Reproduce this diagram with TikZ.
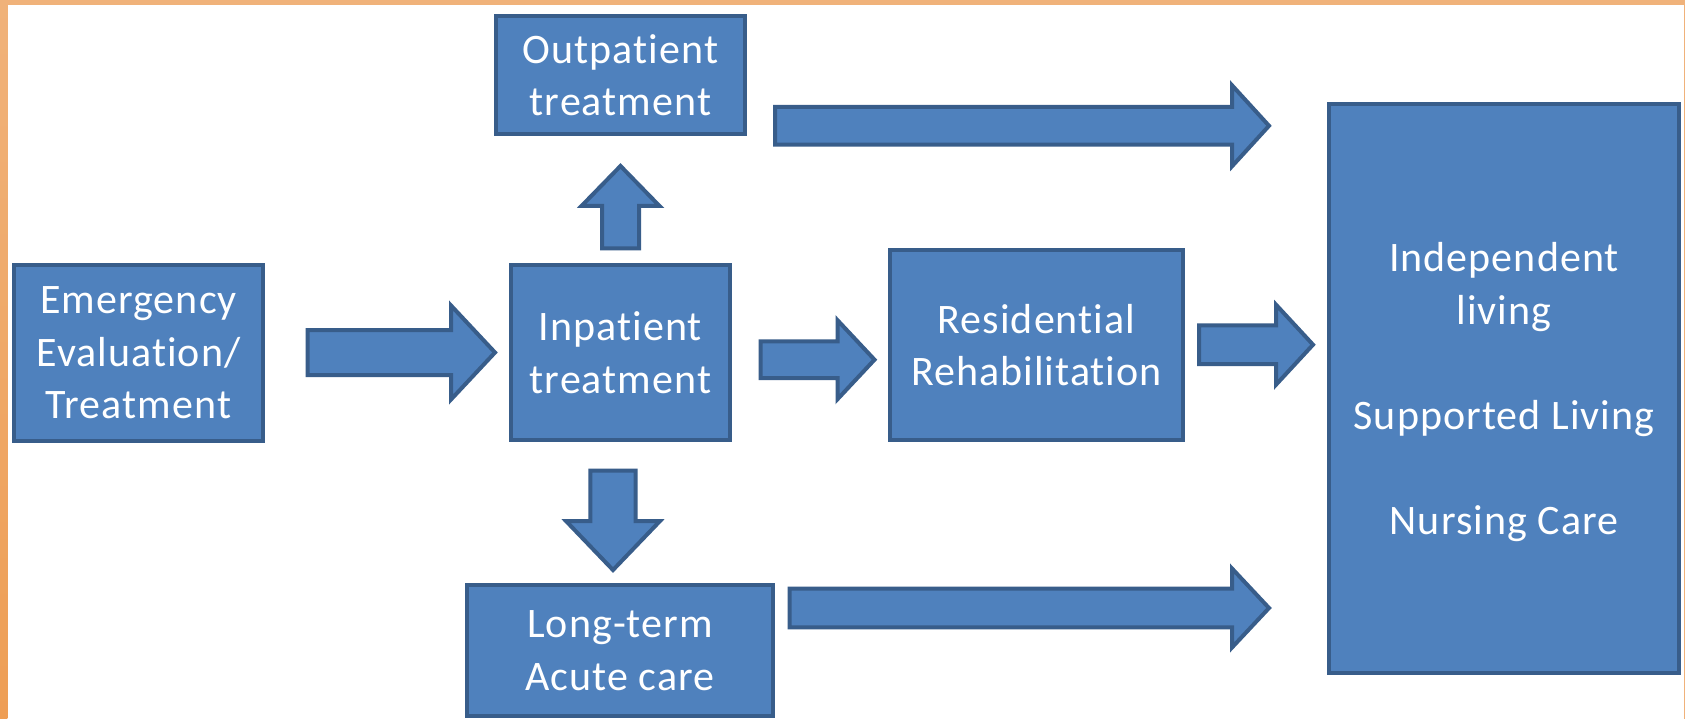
\documentclass[tikz,border=0pt]{standalone}
\usepackage{fontspec}
\setmainfont{Carlito}[LetterSpace=2.5, RawFeature={-liga;-clig;-calt;-dlig}]
\usetikzlibrary{calc}
\definecolor{boxfill}{HTML}{4F81BD}
\definecolor{boxline}{HTML}{385D8A}
\definecolor{frameA}{HTML}{F0B27A}
\definecolor{frameB}{HTML}{EE9E55}
% right-pointing block arrow: #1 start, #2 tip, #3 shaft half width, #4 head half width, #5 head length
\newcommand\arrR[5]{\draw[blockarrow] ($(#1)+(0,-#3)$) -- ($(#2|-#1)+(-#5,-#3)$) -- ($(#2|-#1)+(-#5,-#4)$) -- (#2|-#1) -- ($(#2|-#1)+(-#5,#4)$) -- ($(#2|-#1)+(-#5,#3)$) -- ($(#1)+(0,#3)$) -- cycle;}
% down-pointing block arrow (y grows downwards)
\newcommand\arrD[5]{\draw[blockarrow] ($(#1)+(-#3,0)$) -- ($(#1|-#2)+(-#3,-#5)$) -- ($(#1|-#2)+(-#4,-#5)$) -- (#1|-#2) -- ($(#1|-#2)+(#4,-#5)$) -- ($(#1|-#2)+(#3,-#5)$) -- ($(#1)+(#3,0)$) -- cycle;}
% up-pointing block arrow
\newcommand\arrU[5]{\draw[blockarrow] ($(#1)+(-#3,0)$) -- ($(#1|-#2)+(-#3,#5)$) -- ($(#1|-#2)+(-#4,#5)$) -- (#1|-#2) -- ($(#1|-#2)+(#4,#5)$) -- ($(#1|-#2)+(#3,#5)$) -- ($(#1)+(#3,0)$) -- cycle;}
\tikzset{
  stagebox/.style={draw=boxline, fill=boxfill, line width=4pt, inner sep=0pt,
    text=white, align=center, font=\fontsize{42}{52.5}\selectfont},
  blockarrow/.style={draw=boxline, fill=boxfill, line width=4pt, line join=miter}
}
\begin{document}
\begin{tikzpicture}[x=1pt, y=-1pt]
\useasboundingbox (0,0) rectangle (1685,719);
\fill[white] (0,0) rectangle (1685,719);
% orange frame
\fill[frameA] (0,0) rectangle (1685,5);
\shade[top color=frameA, bottom color=frameB] (0,0) rectangle (7.3,719);
\fill[frameA] (1683.5,0) rectangle (1685,719);
% boxes
\node[stagebox, minimum width=249, minimum height=176] (em) at (138.5,353) {Emergency\\Evaluation/\\Treatment};
\node[stagebox, minimum width=219, minimum height=175] (inp) at (620.5,352.5) {Inpatient\\treatment};
\node[stagebox, minimum width=249, minimum height=118] (outp) at (620.5,75) {Outpatient\\treatment};
\node[stagebox, minimum width=293, minimum height=190] (res) at (1036.5,345) {Residential\\Rehabilitation};
\node[stagebox, minimum width=306, minimum height=131] (lt) at (620,650.5) {Long-term\\Acute care};
\node[stagebox, minimum width=350, minimum height=569, text depth=0pt] (right) at (1504,388.5) {Independent\\living\\[52.5pt]Supported Living\\[52.5pt]Nursing Care};
% arrow end points
\coordinate (a1s) at ($(em.east)+(42.5,-0.5)$);
\coordinate (a1e) at ($(inp.west)+(-14,0)$);
\coordinate (a2s) at ($(inp.east)+(28.7,7.2)$);
\coordinate (a2e) at ($(res.west)+(-13.5,0)$);
\coordinate (a3s) at ($(inp.north)+(0,-14.7)$);
\coordinate (a3e) at ($(outp.south)+(0,30)$);
\coordinate (a4s) at ($(inp.south)+(-7.5,28.7)$);
\coordinate (a4e) at ($(lt.north)+(0,-13)$);
\coordinate (a5s) at ($(outp.east)+(28,50.8)$);
\coordinate (a5e) at ($(right.west)+(-58,0)$);
\coordinate (a6s) at ($(res.east)+(14,-0.3)$);
\coordinate (a6e) at ($(right.west)+(-14,0)$);
\coordinate (a7s) at ($(lt.east)+(14.7,-42.5)$);
\coordinate (a7e) at ($(right.west)+(-58,0)$);
% block arrows
\arrR{a1s}{a1e}{22.5}{47}{44}
\arrR{a2s}{a2e}{18.3}{39.5}{37}
\arrU{a3s}{a3e}{18.5}{39}{40}
\arrD{a4s}{a4e}{22.7}{47}{49}
\arrR{a5s}{a5e}{18.8}{40.5}{37}
\arrR{a6s}{a6e}{19.3}{40}{37}
\arrR{a7s}{a7e}{19.3}{39.5}{37}
\end{tikzpicture}
\end{document}
